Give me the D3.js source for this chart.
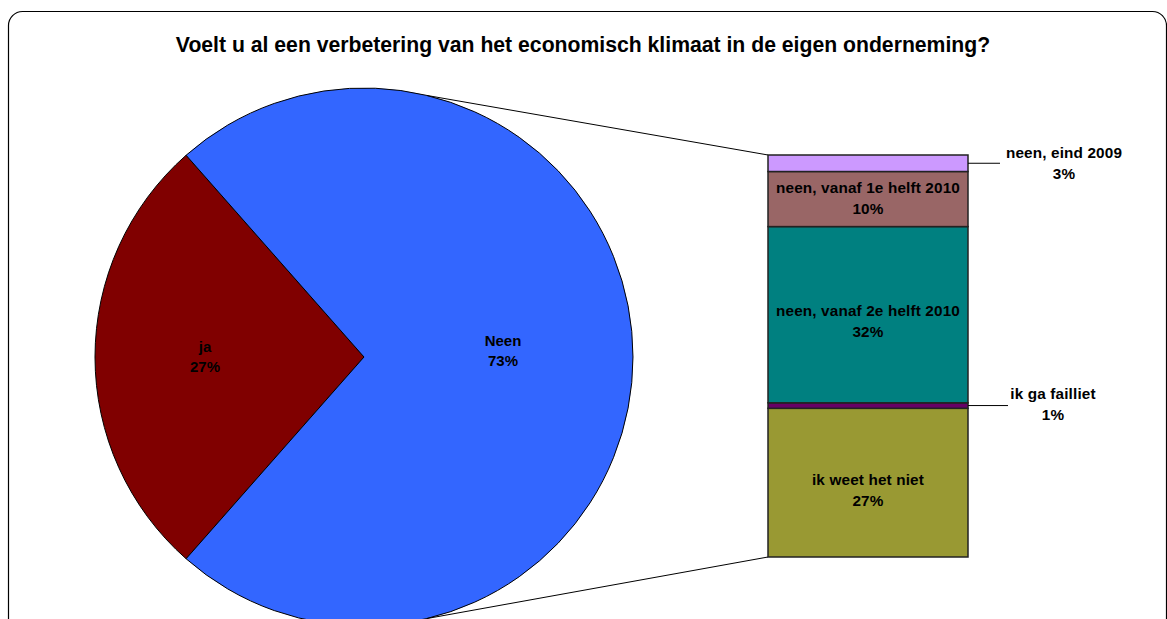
<!doctype html>
<html>
<head>
<meta charset="utf-8">
<title>Pie of bar</title>
<script src="https://d3js.org/d3.v7.min.js"></script>
<style>
  body { margin: 0; background: #fff; }
  svg { display: block; }
  text { font-family: "Liberation Sans", Arial, sans-serif; font-weight: bold; fill: #000; }
</style>
</head>
<body>
<svg id="chart" width="1167" height="619"></svg>
<script>
// pie data
var pieLabels = ["ja", "Neen"];
var pieValues = [27, 73];
var pieColors = ["#800000", "#3366FF"];

// breakdown of "Neen" (bottom to top)
var barLabels = ["ik weet het niet", "ik ga failliet", "neen, vanaf 2e helft 2010", "neen, vanaf 1e helft 2010", "neen, eind 2009"];
var barValues = [27, 1, 32, 10, 3];
var barColors = ["#999933", "#660066", "#008080", "#996666", "#CC99FF"];

var title = "Voelt u al een verbetering van het economisch klimaat in de eigen onderneming?";

var svg = d3.select("#chart");

// frame
svg.append("rect")
  .attr("x", 8.5).attr("y", 11.5)
  .attr("width", 1158).attr("height", 640)
  .attr("rx", 14).attr("ry", 14)
  .style("fill", "#fff").style("stroke", "#000").style("stroke-width", 1.2);

svg.append("text")
  .attr("x", 583).attr("y", 52)
  .attr("text-anchor", "middle")
  .style("font-size", "21.2px")
  .text(title);

// pie
var cx = 364, cy = 357, r = 269;
var jaSpan = pieValues[0] / d3.sum(pieValues) * 2 * Math.PI;
var start = 1.5 * Math.PI - jaSpan / 2;
var pie = d3.pie().sort(null).startAngle(start).endAngle(start + 2 * Math.PI);
var arc = d3.arc().innerRadius(0).outerRadius(r);
var arcs = pie(pieValues);

var g = svg.append("g").attr("transform", "translate(" + cx + "," + cy + ")");

g.selectAll("path")
  .data(arcs)
  .enter()
  .append("path")
  .attr("d", arc)
  .style("fill", function(d, i) { return pieColors[i]; })
  .style("stroke", "#000")
  .style("stroke-width", 1);

var labelPos = [[-159, -5], [139, -11]];
arcs.forEach(function(d, i) {
  var t = g.append("text")
    .attr("text-anchor", "middle")
    .style("font-size", "15px");
  t.append("tspan").attr("x", labelPos[i][0]).attr("y", labelPos[i][1]).text(pieLabels[i]);
  t.append("tspan").attr("x", labelPos[i][0]).attr("y", labelPos[i][1] + 20).text(pieValues[i] + "%");
});

// bar
var bx = 768, bw = 200;
var y = d3.scaleLinear().domain([0, d3.sum(barValues)]).range([557, 155]);
var cum = 0;
var segs = barValues.map(function(v, i) {
  var s = { i: i, y0: cum, y1: cum + v };
  cum += v;
  return s;
});

// connector lines
var a = 13.5 * Math.PI / 180;
svg.append("line")
  .attr("x1", cx + r * Math.sin(a)).attr("y1", cy - r * Math.cos(a))
  .attr("x2", bx).attr("y2", y(cum))
  .style("stroke", "#000").style("stroke-width", 1);
svg.append("line")
  .attr("x1", cx + r * Math.sin(a)).attr("y1", cy + r * Math.cos(a))
  .attr("x2", bx).attr("y2", y(0))
  .style("stroke", "#000").style("stroke-width", 1);

svg.selectAll("rect.seg")
  .data(segs)
  .enter()
  .append("rect")
  .attr("class", "seg")
  .attr("x", bx)
  .attr("y", function(d) { return y(d.y1); })
  .attr("width", bw)
  .attr("height", function(d) { return y(d.y0) - y(d.y1); })
  .style("fill", function(d) { return barColors[d.i]; })
  .style("stroke", "#222")
  .style("stroke-width", 1.5);

// label placement: x, baseline offset from segment middle, leader end (0 = inside)
var labelX = [868, 1053, 868, 868, 1064];
var labelDy = [2, -7, 1, -6, -5];
var leaderEnd = [0, 1008, 0, 0, 1000];

segs.forEach(function(d) {
  var mid = (y(d.y0) + y(d.y1)) / 2;
  if (leaderEnd[d.i]) {
    svg.append("line")
      .attr("x1", bx + bw).attr("y1", mid)
      .attr("x2", leaderEnd[d.i]).attr("y2", mid)
      .style("stroke", "#000").style("stroke-width", 1);
  }
  var lx = labelX[d.i], ly = mid + labelDy[d.i];
  var t = svg.append("text").attr("text-anchor", "middle")
    .style("font-size", "15.3px").style("letter-spacing", "0.15px");
  t.append("tspan").attr("x", lx).attr("y", ly).text(barLabels[d.i]);
  t.append("tspan").attr("x", lx).attr("y", ly + 21).text(barValues[d.i] + "%");
});
</script>
</body>
</html>
